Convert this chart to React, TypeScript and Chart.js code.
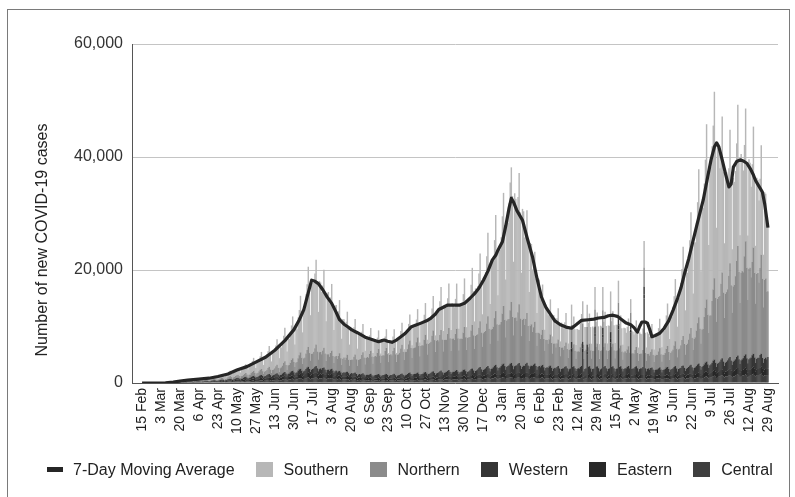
import { useEffect, useRef } from "react";
import { Chart, registerables } from "chart.js";

Chart.register(...registerables);

// All daily series are in hundreds of cases; day 0 = 15 Feb 2020, last day = 29 Aug 2021.
const UNIT = 100;

const tickLabels = [
  "15 Feb", "3 Mar", "20 Mar", "6 Apr", "23 Apr", "10 May", "27 May", "13 Jun", "30 Jun",
  "17 Jul", "3 Aug", "20 Aug", "6 Sep", "23 Sep", "10 Oct", "27 Oct", "13 Nov", "30 Nov",
  "17 Dec", "3 Jan", "20 Jan", "6 Feb", "23 Feb", "12 Mar", "29 Mar", "15 Apr", "2 May",
  "19 May", "5 Jun", "22 Jun", "9 Jul", "26 Jul", "12 Aug", "29 Aug",
];
const tickStepDays = 17;
const yTicks = [0, 20000, 40000, 60000];

const southern = [
  0,0,0,0,0,0,0,
  0,0,0,0,0,0,0,
  0,0,0,0,0.1,0.2,0.3,
  0.3,0.4,0.5,0.6,0.7,0.8,0.9,
  1.0,1.1,1.3,1.4,1.5,1.6,1.8,
  1.7,1.9,2.2,1.8,2.0,2.3,2.1,
  2.2,2.5,2.3,2.6,2.4,2.2,2.6,
  2.6,2.9,3.1,2.7,2.5,3.0,2.8,
  3.1,3.5,3.8,3.2,3.0,3.6,3.5,
  4.0,4.4,5.0,4.6,4.1,4.8,4.6,
  5.4,6.0,6.6,5.8,5.5,6.4,6.3,
  7.6,8.4,9.3,8.2,7.8,9.0,9.2,
  9.4,10.6,11.8,10.0,9.2,11.2,11.3,
  12.5,14.3,15.6,13.2,12.4,15.0,15.0,
  17,19,23,18,13,19,18,
  22,24,30,23,16,24,23,
  28,30,37,29,20,30,29,
  33,37,45,35,24,37,35,
  44,48,59,46,32,48,46,
  55,61,74,58,40,61,58,
  72,80,100,82,56,88,84,
  105,116,142,115,80,122,125,
  122,132,150,124,84,126,123,
  110,115,138,106,70,108,110,
  94,98,118,91,58,90,90,
  76,79,94,71,46,70,68,
  60,63,76,57,37,57,56,
  50,52,63,47,30,47,47,
  40,41,50,38,24,37,36,
  31,33,40,30,19,30,29,
  25,27,33,25,16,25,25,
  24,26,33,25,16,26,25,
  24,26,33,25,16,27,25,
  28,31,39,30,19,32,31,
  33,36,46,35,22,37,36,
  36,40,50,38,24,40,38,
  40,44,56,42,26,44,42,
  43,48,61,46,29,49,46,
  53,60,76,58,36,62,60,
  57,63,79,60,37,63,60,
  58,62,80,59,38,62,60,
  61,68,86,65,40,69,65,
  72,81,101,78,48,84,80,
  85,96,120,92,57,98,94,
  104,119,148,114,70,122,118,
  122,138,170,131,80,140,132,
  150,172,200,165,102,178,170,
  205,226,238,214,130,220,210,
  194,204,232,188,112,196,190,
  155,158,182,142,86,146,142,
  110,108,124,95,58,94,95,
  70,68,80,60,37,60,58,
  50,50,62,48,30,50,45,
  41,44,55,42,26,44,41,
  38,42,52,40,25,42,40,
  36,40,49,38,24,40,38,
  38,42,52,40,25,42,40,
  39,43,53,41,26,43,41,
  40,44,55,42,26,44,42,
  41,45,56,43,27,45,43,
  42,46,57,44,27,46,45,
  39,43,53,41,26,43,41,
  36,40,49,38,24,40,38,
  34,38,47,36,23,38,35,
  34,38,47,36,23,38,35,
  33,37,45,35,22,37,35,
  37,41,52,40,25,44,42,
  52,59,75,58,37,63,61,
  76,87,110,85,54,92,89,
  110,126,158,122,78,132,125,
  145,165,205,160,100,170,168,
  190,214,262,207,128,220,214,
  236,262,310,254,156,266,262,
  274,290,330,272,166,272,266,
  226,230,276,214,132,214,212,
  182,190,236,184,112,192,182,
  186,208,250,198,120,210,196,
  180,197,235,187,114,194,186,
  160,173,214,165,102,170,165,
  145,158,194,150,93,155,150,
  130,120,
];

const northern = [
  0,0,0,0,0,0,0,
  0,0,0,0,0,0,0,
  0,0,0,0,0,0.1,0.1,
  0.2,0.2,0.3,0.3,0.3,0.4,0.4,
  0.5,0.6,0.6,0.7,0.8,0.8,0.9,
  0.9,1,1.1,1,0.8,1.1,1.1,
  1.1,1.2,1.4,1.2,1,1.2,1.3,
  1.3,1.5,1.7,1.4,1.1,1.4,1.4,
  1.6,1.9,2.1,1.7,1.2,1.7,1.7,
  2.1,2.4,2.7,2.2,1.6,2.2,2.2,
  2.6,3.1,3.5,2.8,2,2.8,2.9,
  3.6,4.2,4.8,3.8,2.7,3.8,3.9,
  4.3,5,5.6,4.5,3.2,4.5,4.6,
  5.2,6,6.9,5.5,3.9,5.5,5.6,
  6.6,7.7,8.8,7,4.9,7,7.1,
  8.1,9.4,10.6,8.5,6,8.5,8.6,
  9.5,11,12.5,10,7,10,10,
  11,13,15,12,8,12,13,
  14,17,19,15,10,15,15,
  17,20,22,18,13,18,18,
  22,25,29,23,16,23,23,
  27,31,35,28,20,28,27,
  29,33,38,30,21,30,29,
  27,31,35,28,20,28,27,
  25,29,32,26,18,26,26,
  24,27,31,25,17,25,26,
  23,26,30,24,17,24,24,
  25,29,32,26,18,26,26,
  28,33,37,30,21,30,31,
  31,36,41,33,23,33,34,
  33,38,44,35,25,35,35,
  35,41,46,37,26,37,37,
  35,41,46,37,26,37,37,
  39,45,51,41,29,41,41,
  44,51,57,46,32,46,46,
  47,55,62,50,35,50,51,
  50,58,66,53,37,53,54,
  55,64,72,58,41,58,58,
  55,64,72,58,41,58,58,
  56,65,74,59,41,59,59,
  56,65,73,59,42,59,59,
  57,66,75,60,42,60,60,
  59,68,77,62,43,62,63,
  62,71,81,65,45,65,66,
  66,77,88,70,49,70,70,
  72,84,95,76,53,76,76,
  78,90,102,82,57,82,83,
  82,95,108,86,60,86,85,
  79,91,104,83,58,83,83,
  72,79,88,70,50,72,73,
  61,66,74,59,42,60,58,
  50,55,62,50,35,50,48,
  43,48,55,44,31,44,43,
  37,42,47,38,27,38,37,
  33,37,42,34,24,34,34,
  30,34,39,31,22,31,30,
  30,35,40,32,22,32,33,
  31,35,40,32,23,32,31,
  30,35,40,32,22,33,32,
  31,35,40,32,22,32,32,
  30,35,40,32,23,32,32,
  29,33,37,30,21,30,30,
  27,31,35,28,20,28,27,
  26,30,34,27,19,27,26,
  26,30,34,27,19,27,26,
  25,29,32,26,18,26,26,
  26,30,34,27,19,27,26,
  28,33,37,30,21,30,31,
  33,38,44,35,25,35,35,
  40,46,52,42,29,42,43,
  49,57,65,52,36,52,53,
  63,73,82,66,46,66,66,
  84,97,110,88,62,88,87,
  109,126,144,115,80,115,116,
  116,134,152,122,85,122,123,
  126,146,166,133,93,133,134,
  147,170,194,155,108,155,156,
  152,176,200,160,112,160,160,
  142,165,188,150,105,150,150,
  133,154,175,140,98,140,140,
  120,116,
];

const western = [
  0,0,0,0,0,0,0,
  0,0,0,0,0,0,0,
  0,0,0,0,0,0.1,0.1,
  0.1,0.2,0.2,0.2,0.2,0.3,0.3,
  0.4,0.5,0.5,0.5,0.4,0.5,0.6,
  0.7,0.7,0.8,0.7,0.6,0.7,0.7,
  0.8,0.9,0.9,0.8,0.6,0.8,0.8,
  1,1.1,1.2,1,0.8,0.9,1,
  1.2,1.3,1.4,1.2,1,1.1,1.2,
  1.5,1.7,1.7,1.5,1.2,1.4,1.5,
  1.8,2,2.1,1.8,1.4,1.7,1.8,
  2.4,2.6,2.8,2.4,1.9,2.3,2.4,
  2.8,3.1,3.2,2.8,2.2,2.7,2.8,
  3.4,3.7,3.9,3.4,2.7,3.2,3.4,
  4,4.4,4.6,4,3.2,3.8,4,
  4.5,5,5.2,4.5,3.6,4.3,4.5,
  5,5.5,5.8,5,4,4.8,5,
  5.5,6,6.3,5.5,4.4,5.2,5.5,
  6,6.6,6.9,6,4.8,5.7,6,
  7,7.7,8,7,5.6,6.7,7,
  8,8.8,9.2,8,6.4,7.6,8,
  9,9.9,10.4,9,7.2,8.6,9,
  9.5,10.5,10.9,9.5,7.6,9,9.5,
  9,9.9,10.4,9,7.2,8.6,9,
  8,8.8,9.2,8,6.4,7.6,8,
  7,7.7,8,7,5.6,6.7,7,
  6.5,7.2,7.5,6.5,5.2,6.2,6.5,
  6,6.6,6.9,6,4.8,5.7,6,
  6,6.6,6.9,6,4.8,5.7,6,
  6.1,6.5,7,5.9,4.9,5.6,6,
  5.9,6.7,6.8,6.1,4.7,5.8,6,
  6,6.5,7.1,6,4.8,5.6,6.1,
  6.2,6.6,6.9,5.9,4.9,5.7,5.9,
  6.5,7.2,7.5,6.5,5.2,6.2,6.5,
  7,7.7,8,7,5.6,6.7,7,
  7.1,7.6,8.1,7,5.5,6.8,6.9,
  7.5,8.3,8.6,7.5,6,7.1,7.5,
  8,8.8,9.2,8,6.4,7.6,8,
  8.5,9.4,9.8,8.5,6.8,8.1,8.5,
  9,9.9,10.4,9,7.2,8.6,9,
  9.1,9.8,10.3,9.1,7.1,8.7,8.9,
  9.5,10.5,10.9,9.5,7.6,9,9.5,
  10,11,11.5,10,8,9.5,10,
  11,12.1,12.7,11,8.8,10.5,11,
  12,13.2,13.8,12,9.6,11.4,12,
  13,14.3,15,13,10.4,12.4,13,
  14,15.4,16.1,14,11.2,13.3,14,
  15,16.5,17.3,15,12,14.3,15,
  15.2,16.4,17.1,15.1,12.2,14.1,14.9,
  14.9,16.6,17.2,14.8,12.1,14.4,15,
  14,15.4,16.1,14,11.2,13.3,14,
  13,14.3,15,13,10.4,12.4,13,
  13.1,14.2,14.9,13.1,10.3,12.5,12.9,
  12,13.2,13.8,12,9.6,11.4,12,
  12.1,13.1,13.9,12,9.5,11.5,12,
  11.9,13.3,13.7,12.1,9.7,11.3,12,
  12,13.2,13.8,11.9,9.6,11.4,12.1,
  12.2,13,14,12,9.5,11.6,11.9,
  12,13.4,13.6,12.1,9.7,11.3,12,
  11.8,13.2,13.9,12,9.6,11.5,12.1,
  12.1,13.1,13.8,12.2,9.4,11.4,12,
  12,13.3,13.7,11.9,9.7,11.3,12,
  11.9,13.2,13.9,12,9.6,11.5,11.9,
  12,13,13.8,12.1,9.5,11.4,12,
  12.1,13.2,13.7,12,9.6,11.3,12.1,
  11,12.1,12.7,11,8.8,10.5,11,
  11.1,12,12.6,11.1,8.7,10.6,10.9,
  11.5,12.7,13.2,11.5,9.2,10.9,11.5,
  12,13.2,13.8,12,9.6,11.4,12,
  12.5,13.8,14.4,12.5,10,11.9,12.5,
  13,14.3,15,13,10.4,12.4,13,
  14,15.4,16.1,14,11.2,13.3,14,
  15,16.5,17.3,15,12,14.3,15,
  16,17.6,18.4,16,12.8,15.2,16,
  17,18.7,19.6,17,13.6,16.2,17,
  18,19.8,20.7,18,14.4,17.1,18,
  19,20.9,21.9,19,15.2,18.1,19,
  20,22,23,20,16,19,20,
  20.2,21.8,23.1,20.1,15.9,19.2,19.8,
  19.9,22.1,22.9,19.8,16.1,18.9,20.1,
  19,20.9,
];

const eastern = [
  0,0,0,0,0,0,0,
  0,0,0,0,0,0,0,
  0,0,0,0,0,0,0.1,
  0.1,0.2,0.2,0.2,0.2,0.2,0.3,
  0.3,0.4,0.4,0.4,0.3,0.4,0.5,
  0.6,0.6,0.7,0.6,0.5,0.6,0.6,
  0.8,0.9,0.9,0.8,0.6,0.8,0.8,
  0.9,1,1,0.9,0.7,0.9,0.9,
  1,1.1,1.2,1,0.8,1,1,
  1.3,1.4,1.5,1.3,1,1.2,1.3,
  1.6,1.8,1.8,1.6,1.3,1.5,1.6,
  2,2.2,2.3,2,1.6,1.9,2,
  2.4,2.6,2.8,2.4,1.9,2.3,2.4,
  2.8,3.1,3.2,2.8,2.2,2.7,2.8,
  3.3,3.6,3.8,3.3,2.6,3.1,3.3,
  3.8,4.2,4.4,3.8,3,3.6,3.8,
  4.3,4.7,4.9,4.3,3.4,4.1,4.3,
  4.5,5,5.2,4.5,3.6,4.3,4.5,
  5,5.5,5.8,5,4,4.8,5,
  5.5,6,6.3,5.5,4.4,5.2,5.5,
  6.5,7.2,7.5,6.5,5.2,6.2,6.5,
  7.5,8.3,8.6,7.5,6,7.1,7.5,
  8,8.8,9.2,8,6.4,7.6,8,
  7,7.7,8,7,5.6,6.7,7,
  6.5,7.2,7.5,6.5,5.2,6.2,6.5,
  5.5,6,6.3,5.5,4.4,5.2,5.5,
  5,5.5,5.8,5,4,4.8,5,
  4.5,5,5.2,4.5,3.6,4.3,4.5,
  4,4.4,4.6,4,3.2,3.8,4,
  3.5,3.9,4,3.5,2.8,3.3,3.5,
  3.6,3.8,4.1,3.4,2.9,3.3,3.5,
  3.5,3.9,4,3.6,2.8,3.2,3.5,
  3.4,3.9,4.1,3.5,2.8,3.4,3.5,
  3.5,3.8,4,3.5,2.9,3.3,3.6,
  4,4.4,4.6,4,3.2,3.8,4,
  4.1,4.3,4.7,4,3.1,3.9,4,
  4,4.5,4.6,4.1,3.2,3.8,3.9,
  4.5,5,5.2,4.5,3.6,4.3,4.5,
  4.6,4.9,5.3,4.5,3.5,4.4,4.5,
  5,5.5,5.8,5,4,4.8,5,
  5.1,5.4,5.9,5,3.9,4.8,5,
  5,5.6,5.7,5.1,4,4.7,5,
  5.5,6,6.3,5.5,4.4,5.2,5.5,
  6,6.6,6.9,6,4.8,5.7,6,
  6.1,6.5,7,6,4.7,5.8,6,
  6.5,7.2,7.5,6.5,5.2,6.2,6.5,
  7,7.7,8,7,5.6,6.7,7,
  7.1,7.6,8.1,7,5.5,6.8,7,
  7,7.8,8,7.1,5.6,6.6,7,
  6.9,7.7,8.1,7,5.7,6.7,6.9,
  7,7.6,7.9,7,5.6,6.8,7,
  6.5,7.2,7.5,6.5,5.2,6.2,6.5,
  6,6.6,6.9,6,4.8,5.7,6,
  6.1,6.5,7,6,4.7,5.8,6,
  6,6.7,6.8,6.1,4.8,5.6,6,
  5.9,6.6,6.9,6,4.9,5.7,6.1,
  6,6.5,7,5.9,4.8,5.8,6,
  6.1,6.6,6.8,6,4.7,5.7,6,
  6,6.7,6.9,6.1,4.8,5.6,5.9,
  5.9,6.6,7,6,4.9,5.7,6,
  6,6.5,6.9,6,4.8,5.8,6.1,
  6.1,6.6,6.8,5.9,4.7,5.7,6,
  6,6.7,7,6,4.8,5.6,6,
  5.9,6.6,6.9,6.1,4.9,5.7,6,
  6,6.5,6.8,6,4.8,5.8,5.9,
  5.5,6,6.3,5.5,4.4,5.2,5.5,
  5.6,5.9,6.4,5.5,4.3,5.3,5.5,
  6,6.6,6.9,6,4.8,5.7,6,
  6.1,6.5,7,6,4.7,5.8,6,
  6,6.7,6.8,6.1,4.8,5.6,6,
  6.5,7.2,7.5,6.5,5.2,6.2,6.5,
  7,7.7,8,7,5.6,6.7,7,
  8,8.8,9.2,8,6.4,7.6,8,
  9,9.9,10.4,9,7.2,8.6,9,
  9.1,9.8,10.3,9.1,7.1,8.7,8.9,
  10,11,11.5,10,8,9.5,10,
  10.1,10.9,11.6,10,7.9,9.6,10,
  11,12.1,12.7,11,8.8,10.5,11,
  11.1,12,12.6,11.1,8.7,10.6,10.9,
  10.9,12.2,12.7,10.9,8.9,10.4,11,
  10,11,
];

const central = [
  0,0,0,0,0,0,0,
  0,0,0,0,0,0,0,
  0,0,0,0,0,0.1,0.1,
  0.1,0.2,0.2,0.2,0.2,0.3,0.2,
  0.4,0.5,0.6,0.5,0.4,0.5,0.6,
  0.7,0.7,0.8,0.7,0.6,0.7,0.7,
  0.8,0.9,0.9,0.8,0.6,0.8,0.8,
  0.9,1,1,0.9,0.7,0.9,0.9,
  1.2,1.3,1.4,1.2,1,1.1,1.2,
  1.5,1.7,1.7,1.5,1.2,1.4,1.5,
  1.8,2,2.1,1.8,1.4,1.7,1.8,
  2.3,2.5,2.6,2.3,1.8,2.2,2.3,
  2.8,3.1,3.2,2.8,2.2,2.7,2.8,
  3.3,3.6,3.8,3.3,2.6,3.1,3.3,
  3.7,4.1,4.3,3.7,3,3.5,3.7,
  4.2,4.6,4.8,4.2,3.4,4,4.2,
  4.7,5.2,5.4,4.7,3.8,4.5,4.7,
  5,5.5,5.8,5,4,4.8,5,
  6,6.6,6.9,6,4.8,5.7,6,
  6.5,7.2,7.5,6.5,5.2,6.2,6.5,
  7.5,8.3,8.6,7.5,6,7.1,7.5,
  8.5,9.4,9.8,8.5,6.8,8.1,8.5,
  8.6,9.3,9.9,8.4,6.9,8,8.5,
  8,8.8,9.2,8,6.4,7.6,8,
  7.5,8.3,8.6,7.5,6,7.1,7.5,
  6.5,7.2,7.5,6.5,5.2,6.2,6.5,
  6,6.6,6.9,6,4.8,5.7,6,
  5.5,6,6.3,5.5,4.4,5.2,5.5,
  5,5.5,5.8,5,4,4.8,5,
  4.5,5,5.2,4.5,3.6,4.3,4.5,
  4.6,4.9,5.3,4.4,3.7,4.2,4.5,
  4.5,5.1,5.1,4.6,3.5,4.3,4.4,
  4.4,5,5.2,4.5,3.6,4.4,4.5,
  4.5,4.9,5.3,4.5,3.7,4.3,4.6,
  5,5.5,5.8,5,4,4.8,5,
  5.1,5.4,5.9,5,3.9,4.9,5,
  5.5,6,6.3,5.5,4.4,5.2,5.5,
  5.6,5.9,6.4,5.5,4.3,5.3,5.5,
  6,6.6,6.9,6,4.8,5.7,6,
  6.1,6.5,7,6,4.7,5.8,6,
  6,6.7,6.8,6.1,4.8,5.6,6,
  6.5,7.2,7.5,6.5,5.2,6.2,6.5,
  7,7.7,8,7,5.6,6.7,7,
  7.5,8.3,8.6,7.5,6,7.1,7.5,
  8,8.8,9.2,8,6.4,7.6,8,
  8.5,9.4,9.8,8.5,6.8,8.1,8.5,
  9,9.9,10.4,9,7.2,8.6,9,
  9.1,9.8,10.3,9.1,7.1,8.7,8.9,
  9,10,10.4,8.9,7.3,8.5,9,
  8.9,9.9,10.5,9,7.2,8.6,9.1,
  9,9.8,10.3,9,7.1,8.7,9,
  8.5,9.4,9.8,8.5,6.8,8.1,8.5,
  8,8.8,9.2,8,6.4,7.6,8,
  8.1,8.7,9.3,8,6.3,7.7,8,
  8,8.9,9.1,8.1,6.4,7.5,8,
  55,8.8,9.2,7.9,6.5,7.6,8.1,
  8,8.7,9.3,55,6.4,7.7,8,
  50,8.9,9.1,8,6.3,7.6,7.9,
  82,8.8,9.2,8.1,6.4,7.5,8,
  80,8.7,9.3,8,6.5,7.6,8.1,
  72,8.9,9.1,7.9,6.4,7.7,8,
  95,8.8,9.2,8,6.3,7.6,8,
  8,8.7,9.3,8.1,90,7.5,7.9,
  8.1,8.9,9.1,8,6.4,7.6,8,
  8,8.8,150,8,6.5,7.7,8.1,
  7.5,8.3,8.6,7.5,6,7.1,7.5,
  7.6,8.2,8.7,7.4,6.1,7,7.5,
  7.5,8.3,8.6,7.5,6,7.1,7.5,
  8,8.8,9.2,8,6.4,7.6,8,
  8.5,9.4,9.8,8.5,6.8,8.1,8.5,
  8.6,9.3,9.9,8.4,6.9,8,8.5,
  9,9.9,10.4,9,7.2,8.6,9,
  10,11,11.5,10,8,9.5,10,
  11,12.1,12.7,11,8.8,10.5,11,
  12,13.2,13.8,12,9.6,11.4,12,
  12.1,13.1,13.9,12,9.5,11.5,12,
  13,14.3,15,13,10.4,12.4,13,
  13.1,14.2,15.1,13,10.3,12.5,12.9,
  14,15.4,16.1,14,11.2,13.3,14,
  14.1,15.3,16.2,14,11.1,13.4,13.9,
  13,14.3,
];

// 7-day moving average, read at these day indices (hundreds of cases)
const maDays = [
  0, 14, 21, 28, 34, 41, 51, 60, 68, 77, 85, 94, 102, 111, 119, 128, 136, 141, 145, 149,
  152, 155, 158, 162, 166, 170, 174, 177, 181, 184, 188, 193, 200, 206, 212, 215, 217, 220,
  224, 228, 232, 236, 241, 245, 250, 255, 259, 263, 266, 270, 274, 279, 285, 289, 294, 298,
  302, 306, 310, 314, 317, 319, 323, 326, 329, 331, 333, 336, 339, 341, 345, 350, 354, 358,
  362, 365, 370, 375, 380, 385, 389, 394, 400, 405, 409, 414, 418, 422, 426, 430, 434, 438,
  441, 444, 446, 448, 451, 453, 455, 457, 460, 464, 468, 472, 476, 480, 483, 486, 490, 494,
  498, 503, 507, 510, 513, 515, 517, 520, 523, 526, 528, 530, 533, 536, 539, 542, 545, 548,
  550, 553, 556, 558, 561,
];
const maValues = [
  0, 0, 0.3, 1.5, 3.5, 5, 7, 8.5, 11.5, 16, 23, 29, 37, 46, 58, 75, 94, 112, 130, 160,
  182, 180, 176, 165, 152, 141, 125, 112, 104, 100, 94, 89, 81, 77, 73, 75, 76, 74,
  72, 76, 82, 88, 99, 102, 106, 110, 115, 122, 130, 134, 138, 138, 138, 141, 150, 158,
  168, 182, 198, 218, 226, 235, 250, 278, 310, 327, 320, 305, 295, 288, 258, 223, 185, 152,
  134, 125, 110, 103, 99, 97, 103, 111, 112, 113, 115, 116, 119, 120, 118, 112, 106, 103,
  98, 90, 100, 108, 108, 106, 95, 82, 84, 88, 97, 110, 129, 150, 168, 192, 220, 253,
  285, 324, 365, 395, 418, 425, 418, 395, 370, 347, 352, 382, 392, 395, 393, 389, 380, 368,
  358, 348, 338, 318, 275,
];

const seriesNames = ["7-Day Moving Average", "Southern", "Northern", "Western", "Eastern", "Central"];
const seriesColors = ["#262626", "#b7b7b7", "#8b8b8b", "#353535", "#282828", "#3f3f3f"];

const FONT = "'Liberation Sans', Arial, Helvetica, sans-serif";

function toPoints(values: number[]) {
  return values.map((v, i) => ({ x: i, y: v * UNIT }));
}

export default function App() {
  const canvasRef = useRef<HTMLCanvasElement | null>(null);

  useEffect(() => {
    const canvas = canvasRef.current;
    if (!canvas) return;
    Chart.defaults.font.family = FONT;

    const barCommon = {
      type: "bar" as const,
      barPercentage: 1.3,
      categoryPercentage: 1,
      borderWidth: 0,
    };

    const chart = new Chart(canvas, {
      type: "bar",
      data: {
        datasets: [
          {
            type: "line",
            label: seriesNames[0],
            data: maDays.map((d, i) => ({ x: d, y: maValues[i] * UNIT })),
            borderColor: seriesColors[0],
            borderWidth: 3.2,
            pointRadius: 0,
            fill: false,
            tension: 0,
            borderJoinStyle: "round",
          } as any,
          { ...barCommon, label: seriesNames[5], data: toPoints(central), backgroundColor: seriesColors[5] },
          { ...barCommon, label: seriesNames[4], data: toPoints(eastern), backgroundColor: seriesColors[4] },
          { ...barCommon, label: seriesNames[3], data: toPoints(western), backgroundColor: seriesColors[3] },
          { ...barCommon, label: seriesNames[2], data: toPoints(northern), backgroundColor: seriesColors[2] },
          { ...barCommon, label: seriesNames[1], data: toPoints(southern), backgroundColor: seriesColors[1] },
        ],
      },
      options: {
        responsive: false,
        animation: false,
        events: [],
        layout: { padding: { left: 0, right: 17, top: 44, bottom: 0 } },
        plugins: {
          legend: { display: false },
          tooltip: { enabled: false },
        },
        scales: {
          x: {
            type: "linear",
            stacked: true,
            min: -0.5,
            max: southern.length - 0.5,
            grid: { display: false, drawTicks: false },
            border: { display: true, color: "#555555", width: 1 },
            afterBuildTicks: (scale: any) => {
              scale.ticks = tickLabels.map((_, i) => ({ value: i * tickStepDays }));
            },
            afterFit: (scale: any) => {
              scale.height = 114;
            },
            ticks: {
              autoSkip: false,
              minRotation: 90,
              maxRotation: 90,
              padding: 5,
              color: "#1e1e1e",
              font: { size: 14, family: FONT },
              callback: (value: any) => tickLabels[Math.round(Number(value) / tickStepDays)] ?? "",
            },
          },
          y: {
            stacked: true,
            min: 0,
            max: 60000,
            afterBuildTicks: (scale: any) => {
              scale.ticks = yTicks.map((v) => ({ value: v }));
            },
            afterFit: (scale: any) => {
              scale.width = 132;
            },
            grid: { color: "#c4c4c4", lineWidth: 1, drawTicks: false },
            border: { display: true, color: "#555555", width: 1 },
            ticks: {
              padding: 9,
              color: "#333333",
              font: { size: 16, family: FONT },
              callback: (value: any) => Number(value).toLocaleString("en-US"),
            },
          },
        },
      } as any,
    });

    return () => chart.destroy();
  }, []);

  return (
    <div
      style={{
        position: "fixed",
        left: 0,
        top: 0,
        width: 795,
        height: 497,
        background: "#ffffff",
        overflow: "hidden",
        fontFamily: FONT,
      }}
    >
      <div
        style={{
          position: "absolute",
          left: 7,
          top: 9,
          width: 783,
          height: 500,
          border: "1px solid #7a7a7a",
          boxSizing: "border-box",
        }}
      />
      <canvas
        ref={canvasRef}
        width={795}
        height={497}
        style={{ position: "absolute", left: 0, top: 0, width: 795, height: 497 }}
      />
      <div
        style={{
          position: "absolute",
          left: 42 - 150,
          top: 240 - 10,
          width: 300,
          height: 20,
          lineHeight: "20px",
          textAlign: "center",
          fontSize: 16,
          color: "#222222",
          transform: "rotate(-90deg)",
          whiteSpace: "nowrap",
        }}
      >
        Number of new COVID-19 cases
      </div>
      <div
        style={{
          position: "absolute",
          left: 47,
          top: 460,
          height: 19,
          display: "flex",
          alignItems: "center",
          gap: 21,
          fontSize: 16,
          color: "#222222",
          whiteSpace: "nowrap",
        }}
      >
        {seriesNames.map((name, i) => (
          <div key={name} style={{ display: "flex", alignItems: "center" }}>
            <span
              style={{
                display: "inline-block",
                width: i === 0 ? 16 : 17,
                height: i === 0 ? 5 : 15,
                background: seriesColors[i],
                marginRight: i === 0 ? 10 : 11,
              }}
            />
            <span style={{ lineHeight: "19px" }}>{name}</span>
          </div>
        ))}
      </div>
    </div>
  );
}
